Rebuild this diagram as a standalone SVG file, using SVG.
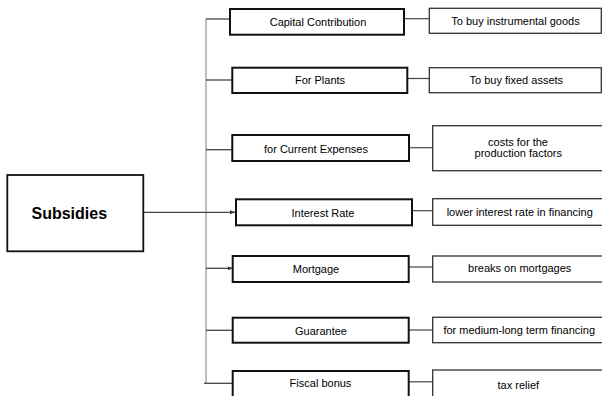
<svg xmlns="http://www.w3.org/2000/svg" width="602" height="396" viewBox="0 0 602 396">
<style>
.main{fill:#fff;stroke:#111;stroke-width:1.8}
.sub{fill:#fff;stroke:#111;stroke-width:2}
.det{fill:#fff;stroke:#333;stroke-width:1.3}
text{font-family:"Liberation Sans",Arial,sans-serif;font-size:11px;fill:#000;text-anchor:middle}
.big{font-size:16px;font-weight:bold;text-anchor:start}
.trunk{stroke:#aaa;stroke-width:1.5;fill:none}
.stub{stroke:#444;stroke-width:1.3;fill:none}
.link{stroke:#444;stroke-width:1.2;fill:none}
</style>
<defs>
<marker id="ah" markerWidth="6" markerHeight="6" refX="5" refY="3" orient="auto" markerUnits="userSpaceOnUse">
<path d="M0,1 L5,3 L0,5 z" fill="#333"/>
</marker>
</defs>
<rect width="602" height="396" fill="#fff"/>
<g id="connectors">
<line class="trunk" x1="206" y1="18.7" x2="206" y2="383.5"/>
<line class="stub" x1="206" y1="19" x2="230" y2="19"/>
<line class="stub" x1="206" y1="80" x2="232.3" y2="80"/>
<line class="stub" x1="206" y1="149.7" x2="232.3" y2="149.7"/>
<line class="link" x1="143.3" y1="212.3" x2="235" y2="212.3" marker-end="url(#ah)"/>
<line class="stub" x1="206" y1="268.3" x2="232.7" y2="268.3" marker-end="url(#ah)"/>
<line class="stub" x1="206" y1="330.3" x2="232.7" y2="330.3"/>
<line class="stub" x1="204" y1="383.3" x2="232.7" y2="383.3"/>
<line class="link" x1="404" y1="18.7" x2="429.3" y2="18.7"/>
<line class="link" x1="407.3" y1="78.5" x2="429.3" y2="78.5"/>
<line class="link" x1="409" y1="147.7" x2="432.7" y2="147.7"/>
<line class="link" x1="412" y1="210.7" x2="432.7" y2="210.7"/>
<line class="link" x1="408.7" y1="267" x2="432.7" y2="267"/>
<line class="link" x1="408.7" y1="330" x2="432.7" y2="330"/>
<line class="link" x1="408.7" y1="381.8" x2="432.7" y2="381.8"/>
</g>
<g id="subsidies">
<rect class="main" x="7.3" y="175" width="136" height="76.3"/>
<text class="big" x="31.5" y="218.5">Subsidies</text>
</g>
<g id="capital">
<rect class="sub" x="230" y="9" width="174" height="25.7"/>
<text x="318" y="26">Capital Contribution</text>
</g>
<g id="capital-detail">
<rect class="det" x="429.3" y="8.3" width="172" height="25"/>
<text x="515.5" y="24.5">To buy instrumental goods</text>
</g>
<g id="plants">
<rect class="sub" x="232.3" y="67.7" width="175" height="25.3"/>
<text x="320" y="84">For Plants</text>
</g>
<g id="plants-detail">
<rect class="det" x="429.3" y="67.7" width="172" height="25"/>
<text x="516.3" y="83.5">To buy fixed assets</text>
</g>
<g id="current">
<rect class="sub" x="232.3" y="135" width="176.7" height="26"/>
<text x="316" y="153">for Current Expenses</text>
</g>
<g id="current-detail">
<rect class="det" x="432.7" y="125.7" width="173" height="45"/>
<text x="518" y="145.5">costs for the</text>
<text x="518.3" y="157">production factors</text>
</g>
<g id="interest">
<rect class="sub" x="236" y="199.3" width="176" height="26"/>
<text x="323" y="216.5">Interest Rate</text>
</g>
<g id="interest-detail">
<rect class="det" x="432.7" y="198.7" width="173" height="26.6"/>
<text x="519.7" y="216">lower interest rate in financing</text>
</g>
<g id="mortgage">
<rect class="sub" x="232.7" y="256" width="176" height="26"/>
<text x="316" y="273">Mortgage</text>
</g>
<g id="mortgage-detail">
<rect class="det" x="432.7" y="256" width="173" height="26"/>
<text x="519.7" y="272">breaks on mortgages</text>
</g>
<g id="guarantee">
<rect class="sub" x="232.7" y="317.7" width="176" height="25"/>
<text x="321" y="334.5">Guarantee</text>
</g>
<g id="guarantee-detail">
<rect class="det" x="432.7" y="317.3" width="173" height="25.4"/>
<text x="519.2" y="334">for medium-long term financing</text>
</g>
<g id="fiscal">
<rect class="sub" x="232.7" y="371" width="176" height="30"/>
<text x="320.5" y="387">Fiscal bonus</text>
</g>
<g id="fiscal-detail">
<rect class="det" x="432.7" y="370" width="173" height="30"/>
<text x="518.3" y="388.5">tax relief</text>
</g>
</svg>
